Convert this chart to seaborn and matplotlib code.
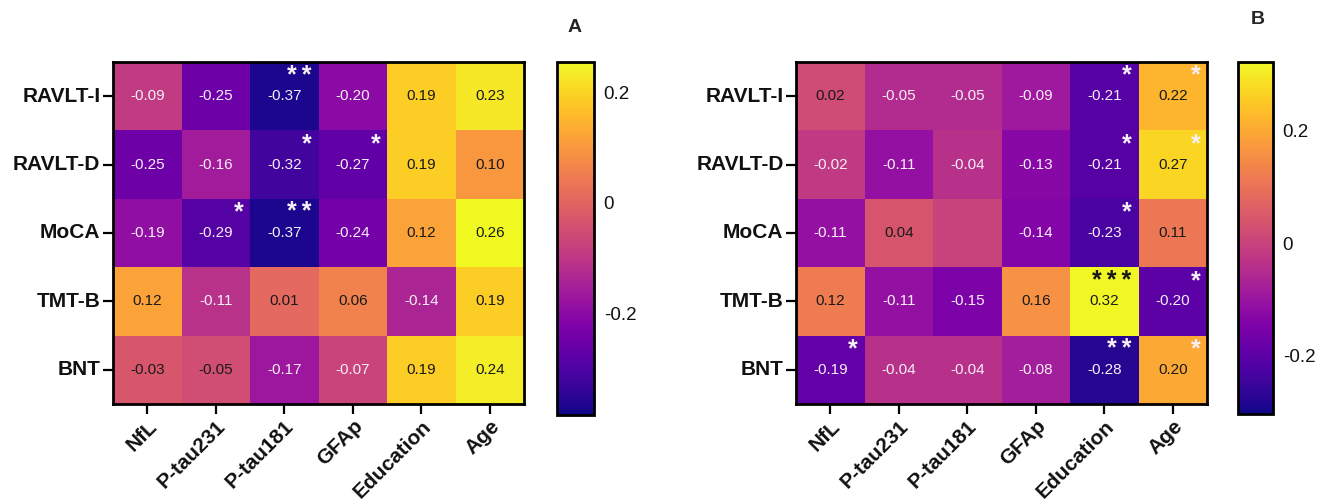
import numpy as np
import pandas as pd
import matplotlib
matplotlib.use("Agg")
import matplotlib.pyplot as plt
import seaborn as sns

rows = ["RAVLT-I", "RAVLT-D", "MoCA", "TMT-B", "BNT"]
cols = ["NfL", "P-tau231", "P-tau181", "GFAp", "Education", "Age"]

vals_a = [
    [-0.09, -0.25, -0.37, -0.20, 0.19, 0.23],
    [-0.25, -0.16, -0.32, -0.27, 0.19, 0.10],
    [-0.19, -0.29, -0.37, -0.24, 0.12, 0.26],
    [0.12, -0.11, 0.01, 0.06, -0.14, 0.19],
    [-0.03, -0.05, -0.17, -0.07, 0.19, 0.24],
]
stars_a = [
    ["", "", "**", "", "", ""],
    ["", "", "*", "*", "", ""],
    ["", "*", "**", "", "", ""],
    ["", "", "", "", "", ""],
    ["", "", "", "", "", ""],
]
vals_b = [
    [0.02, -0.05, -0.05, -0.09, -0.21, 0.22],
    [-0.02, -0.11, -0.04, -0.13, -0.21, 0.27],
    [-0.11, 0.04, 0.00, -0.14, -0.23, 0.11],
    [0.12, -0.11, -0.15, 0.16, 0.32, -0.20],
    [-0.19, -0.04, -0.04, -0.08, -0.28, 0.20],
]
# cell without a printed value in the original
blank_b = [(2, 2)]
stars_b = [
    ["", "", "", "", "*", "*"],
    ["", "", "", "", "*", "*"],
    ["", "", "", "", "*", ""],
    ["", "", "", "", "***", "*"],
    ["*", "", "", "", "**", "*"],
]
range_a = (-0.385, 0.256)
range_b = (-0.305, 0.323)
cbar_ticks = [-0.2, 0, 0.2]
cbar_labels = ["-0.2", "0", "0.2"]

sns.set_theme(style="white")
plt.rcParams["font.family"] = ["Liberation Sans", "DejaVu Sans"]

W, H = 1338, 504
fig = plt.figure(figsize=(W / 100, H / 100), dpi=100)


def fx(px):
    return px / W


def fy(py):
    return 1 - py / H


def panel(vals, stars, vr, blanks, ax_box, cax_box, letter, letter_pos):
    df = pd.DataFrame(vals, index=rows, columns=cols)
    l, t, r, b = ax_box
    ax = fig.add_axes([fx(l), fy(b), fx(r - l), (b - t) / H])
    cl, ct, cr, cb = cax_box
    cax = fig.add_axes([fx(cl), fy(cb), fx(cr - cl), (cb - ct) / H])
    vmin, vmax = vr
    sns.heatmap(df, ax=ax, cmap="plasma", vmin=vmin, vmax=vmax, cbar_ax=cax,
                annot=False, linewidths=0)
    for i in range(len(rows)):
        for j in range(len(cols)):
            v = vals[i][j]
            n = (v - vmin) / (vmax - vmin)
            if (i, j) not in blanks:
                ax.text(j + 0.5, i + 0.5, f"{v:.2f}", ha="center", va="center",
                        fontsize=11, color="#f6eef6" if n < 0.5 else "#1a1a1a")
            s = stars[i][j]
            if s:
                ax.text(j + 0.9, i + 0.2, "\u2009".join(s), ha="right", va="center",
                        fontsize=18, fontweight="bold",
                        color="#1a1a1a" if n > 0.95 else "#f6f0f6")
    for sp in ax.spines.values():
        sp.set_visible(True)
        sp.set_color("black")
        sp.set_linewidth(2)
    ax.tick_params(axis="both", which="both", length=7, width=1.6, color="black",
                   bottom=True, left=True, pad=2)
    ax.set_yticklabels(rows, rotation=0, fontsize=15, fontweight="bold", color="#111111")
    ax.set_xticklabels(cols, rotation=45, ha="right", rotation_mode="anchor",
                       fontsize=15, fontweight="bold", color="#111111")
    ax.set_xlabel("")
    ax.set_ylabel("")
    cbar = ax.collections[0].colorbar
    cbar.outline.set_edgecolor("black")
    cbar.outline.set_linewidth(2)
    cbar.set_ticks(cbar_ticks)
    cbar.set_ticklabels(cbar_labels)
    cax.tick_params(direction="in", left=True, right=True, length=4, width=1.5,
                    color="black", labelsize=13.5, pad=7, labelcolor="#111111")
    fig.text(fx(letter_pos[0]), fy(letter_pos[1]), letter, ha="center", va="center",
             fontsize=14, fontweight="bold")


panel(vals_a, stars_a, range_a, [], (113, 62, 524, 404), (557, 62, 594, 415), "A", (575, 28))
panel(vals_b, stars_b, range_b, blank_b, (796, 62, 1207, 404), (1238, 62, 1273, 414), "B", (1258, 20))

fig.savefig("out.png", dpi=100, facecolor="white")
